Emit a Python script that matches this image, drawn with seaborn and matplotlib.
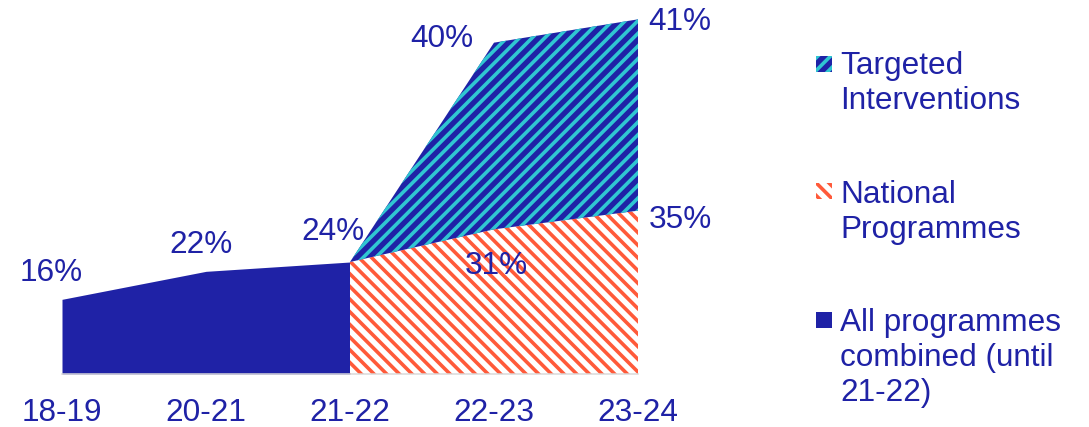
import numpy as np
import matplotlib
matplotlib.use("Agg")
import matplotlib.pyplot as plt
from matplotlib.patches import Rectangle
import seaborn as sns

# ---- data ----
years = ["18-19", "20-21", "21-22", "22-23", "23-24"]
combined = [16, 22, 24, np.nan, np.nan]
national = [np.nan, np.nan, 24, 31, 35]
targeted = [np.nan, np.nan, 0, 40, 41]
legend_labels = ["Targeted\nInterventions", "National\nProgrammes",
                 "All programmes\ncombined (until\n21-22)"]

NAVY = "#1f22a6"
CYAN = "#30c6d2"
ORANGE = "#ff5a3a"

DPI = 76
W, H = 1089, 427
def pt(px):
    return px * 72.0 / DPI

sns.set_theme(style="white")
plt.rcParams["font.family"] = ["Liberation Sans", "DejaVu Sans"]
plt.rcParams["hatch.linewidth"] = pt(3.6)

fig = plt.figure(figsize=(W / DPI, H / DPI), dpi=DPI)
ax = fig.add_axes([62 / W, 1 - 374 / H, (638 - 62) / W, (374 - 10) / H])

x = np.arange(len(years))
comb = np.array(combined, float)
nat = np.array(national, float)
tar = np.array(targeted, float)

mc = ~np.isnan(comb)
mn = ~np.isnan(nat)
ax.fill_between(x[mc], 0, comb[mc], facecolor=NAVY, edgecolor=NAVY, linewidth=0)
ax.fill_between(x[mn], 0, nat[mn], facecolor="white", edgecolor=ORANGE,
                linewidth=0, hatch="\\\\")
ax.fill_between(x[mn], nat[mn], nat[mn] + tar[mn], facecolor=NAVY,
                edgecolor=CYAN, linewidth=0, hatch="//")

fs = pt(31.5)
ax.set_xlim(0, 4)
ax.set_ylim(0, 78)
ax.set_xticks(x)
ax.set_xticklabels(years)
ax.set_yticks([])
ax.tick_params(axis="x", length=0, pad=pt(24), labelsize=fs, labelcolor=NAVY)
for s in ["top", "right", "left"]:
    ax.spines[s].set_visible(False)
ax.spines["bottom"].set_color("#d9d9d9")
ax.spines["bottom"].set_linewidth(pt(1.5))
ax.set_facecolor("none")

# value labels (offsets in pixels are styling only)
def lab(xi, ytop, val, dx, dy):
    ax.annotate(f"{int(val)}%", (xi, ytop), xytext=(dx, dy),
                textcoords="offset pixels", ha="center", va="center",
                fontsize=fs, color=NAVY, annotation_clip=False)

comb_offsets = [(-11, 26), (-5, 26), (-17, 30)]
for i, (dx, dy) in zip(np.where(mc)[0], comb_offsets):
    lab(x[i], comb[i], comb[i], dx, dy)
lab(x[3], nat[3], nat[3], 2, -37)
lab(x[4], nat[4], nat[4], 42, -9)
lab(x[3], nat[3] + tar[3], tar[3], -52, 4)
lab(x[4], nat[4] + tar[4], tar[4], 42, -3)

# legend drawn manually
marker_tops = [56, 183, 312]
text_tops = [51, 180, 308]
styles = [dict(facecolor=NAVY, edgecolor=CYAN, hatch="//"),
          dict(facecolor="white", edgecolor=ORANGE, hatch="\\\\"),
          dict(facecolor=NAVY, edgecolor=NAVY, hatch=None)]
for lbl, top, ttop, st in zip(legend_labels, marker_tops, text_tops, styles):
    r = Rectangle((816 / W, 1 - (top + 16) / H), 16 / W, 16 / H,
                  transform=fig.transFigure, linewidth=0, **st)
    fig.add_artist(r)
    fig.text(840 / W, 1 - ttop / H, lbl, fontsize=fs, color=NAVY,
             ha="left", va="top", linespacing=1.22)

fig.savefig("out.png", dpi=DPI)
